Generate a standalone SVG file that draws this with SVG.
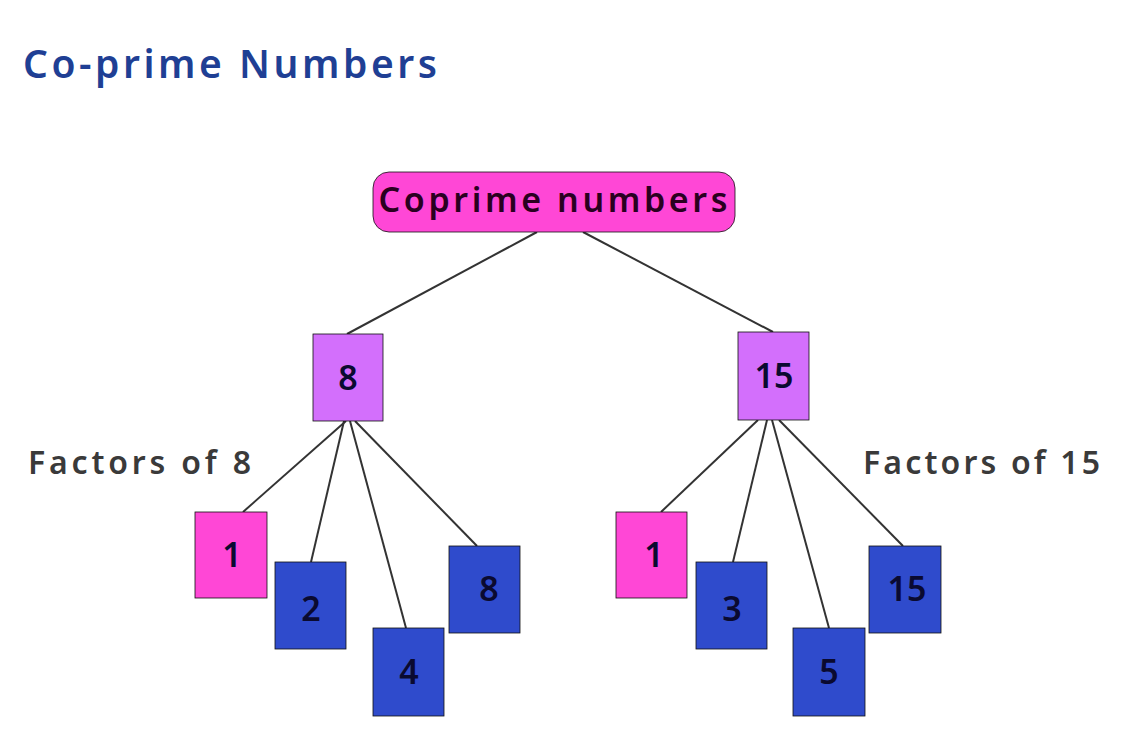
<svg xmlns="http://www.w3.org/2000/svg" width="1125" height="745" viewBox="0 0 1125 745">
<style>
.t{font-family:"Noto Sans","Liberation Sans",sans-serif;font-weight:600}
.box{stroke:#111;stroke-width:0.8}
.pink{fill:#ff47d6}
.purple{fill:#d36ffc}
.blue{fill:#2f4bcc}
.num{font-family:"Noto Sans","Liberation Sans",sans-serif;font-weight:600;font-size:34px;text-anchor:middle;fill:#0a0a30}
.lbl{font-family:"Noto Sans","Liberation Sans",sans-serif;font-weight:600;font-size:32px;fill:#3a3a3a}
.conn line{stroke:#333;stroke-width:2}
</style>
<rect width="1125" height="745" fill="#fff"/>
<text id="title" class="t" x="23" y="78" font-size="39" fill="#1f3f94" textLength="414" lengthAdjust="spacing">Co-prime Numbers</text>
<text class="lbl" x="28" y="474" textLength="223" lengthAdjust="spacing">Factors of 8</text>
<text class="lbl" x="863" y="474" textLength="237" lengthAdjust="spacing">Factors of 15</text>
<g id="connectors" class="conn">
<line x1="537" y1="232" x2="347" y2="334"/>
<line x1="583" y1="232" x2="773" y2="332"/>
<line x1="346" y1="421" x2="243" y2="512"/>
<line x1="344" y1="421" x2="311" y2="562"/>
<line x1="350" y1="421" x2="406" y2="628"/>
<line x1="355" y1="421" x2="477" y2="546"/>
<line x1="758" y1="420" x2="661" y2="512"/>
<line x1="767" y1="420" x2="733" y2="562"/>
<line x1="772" y1="420" x2="829" y2="628"/>
<line x1="779" y1="420" x2="903" y2="546"/>
</g>
<g id="root">
<rect class="box pink" x="373" y="172" width="362" height="60" rx="16"/>
<text class="t" x="553" y="212" font-size="34" fill="#2a0020" text-anchor="middle" textLength="349" lengthAdjust="spacing">Coprime numbers</text>
</g>
<g id="n8"><rect class="box purple" x="313" y="334" width="70" height="87"/><text class="num" x="348" y="390" fill="#2a0033">8</text></g>
<g id="n15"><rect class="box purple" x="738" y="332" width="71" height="88"/><text class="num" x="774" y="388" fill="#2a0033">15</text></g>
<g id="f8_1"><rect class="box pink" x="195" y="512" width="72" height="86"/><text class="num" x="232" y="567" fill="#2a0020">1</text></g>
<g id="f8_2"><rect class="box blue" x="275" y="562" width="71" height="87"/><text class="num" x="311" y="621">2</text></g>
<g id="f8_4"><rect class="box blue" x="373" y="628" width="71" height="88"/><text class="num" x="409" y="684">4</text></g>
<g id="f8_8"><rect class="box blue" x="449" y="546" width="71" height="87"/><text class="num" x="489" y="601">8</text></g>
<g id="f15_1"><rect class="box pink" x="616" y="512" width="71" height="86"/><text class="num" x="654" y="567" fill="#2a0020">1</text></g>
<g id="f15_3"><rect class="box blue" x="696" y="562" width="71" height="87"/><text class="num" x="732" y="621">3</text></g>
<g id="f15_5"><rect class="box blue" x="793" y="628" width="72" height="88"/><text class="num" x="829" y="684">5</text></g>
<g id="f15_15"><rect class="box blue" x="869" y="546" width="72" height="87"/><text class="num" x="907" y="601">15</text></g>
</svg>
